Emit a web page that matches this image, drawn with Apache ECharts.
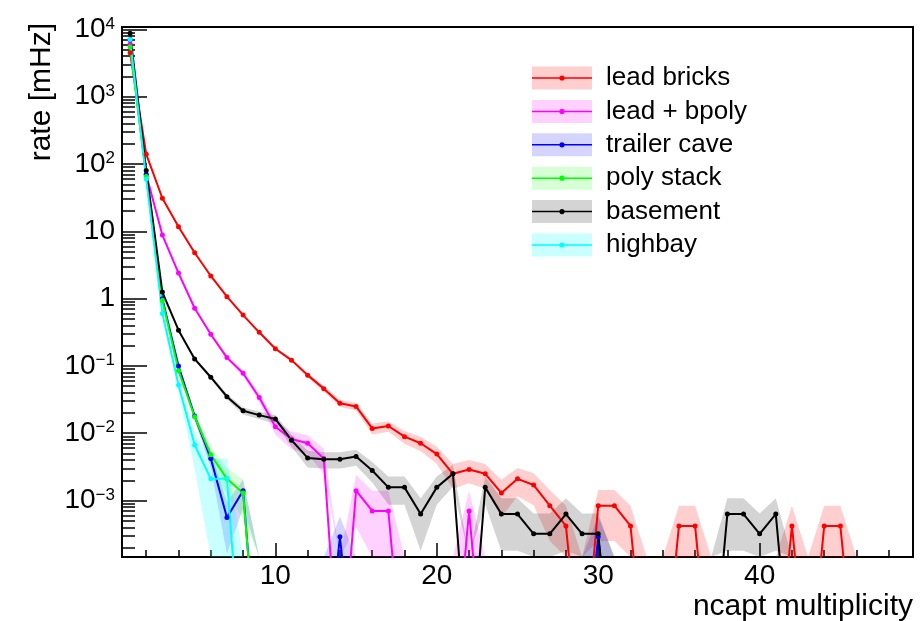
<!DOCTYPE html>
<html>
<head>
<meta charset="utf-8">
<script src="https://cdn.jsdelivr.net/npm/echarts@6/dist/echarts.min.js"></script>
<style>
html,body{margin:0;padding:0;background:#ffffff;}
#chart{width:923px;height:621px;}
</style>
</head>
<body>
<div id="chart"></div>
<script>
// ---------- data ----------
const xValues = [1,2,3,4,5,6,7,8,9,10,11,12,13,14,15,16,17,18,19,20,21,22,23,24,25,26,27,28,29,30,31,32,33,34,35,36,37,38,39,40,41,42,43,44,45,46,47,48,49];

const seriesNames = ['lead bricks', 'lead + bpoly', 'trailer cave', 'poly stack', 'basement', 'highbay'];

// lead bricks
const leadBricks = [4500, 140, 31, 11.7, 4.8, 2.17, 1.07, 0.57, 0.316, 0.18,
  0.122, 0.073, 0.046, 0.028, 0.025, 0.0118, 0.0128, 0.0089, 0.0071, 0.0049,
  0.0025, 0.0029, 0.0025, 0.0013, 0.0021, 0.0017, 0.00084, 0.00042, 0, 0.00084,
  0.00084, 0.00042, 0, 0, 0.00042, 0.00042, 0, 0, 0, 0,
  0, 0.00042, 0, 0.00042, 0.00042, 0, 0, 0, 0];
const leadBricksErr = [1.4, 0.24, 0.114, 0.07, 0.045, 0.030, 0.0212, 0.0155, 0.0115, 0.0087,
  0.0072, 0.0055, 0.0044, 0.0034, 0.0032, 0.0022, 0.0023, 0.0019, 0.0017, 0.0014,
  0.001, 0.0011, 0.001, 0.00074, 0.00094, 0.00085, 0.00059, 0.00042, 0, 0.00059,
  0.00059, 0.00042, 0, 0, 0.00042, 0.00042, 0, 0, 0, 0,
  0, 0.00042, 0, 0.00042, 0.00042, 0, 0, 0, 0];

// lead + bpoly
const leadBpoly = [6000, 70, 8.8, 2.4, 0.72, 0.295, 0.133, 0.078, 0.034, 0.0125,
  0.0082, 0.0071, 0.0042, 0, 0.0014, 0.0007, 0.0007, 0, 0, 0,
  0, 0.0007, 0, 0, 0, 0, 0, 0, 0, 0,
  0, 0, 0, 0, 0, 0, 0, 0, 0, 0,
  0, 0, 0, 0, 0, 0, 0, 0, 0];
const leadBpolyErr = [2.0, 0.22, 0.078, 0.041, 0.0224, 0.0144, 0.0096, 0.0074, 0.0049, 0.003,
  0.0024, 0.0022, 0.0017, 0, 0.001, 0.0007, 0.0007, 0, 0, 0,
  0, 0.0007, 0, 0, 0, 0, 0, 0, 0, 0,
  0, 0, 0, 0, 0, 0, 0, 0, 0, 0,
  0, 0, 0, 0, 0, 0, 0, 0, 0];

// trailer cave
const trailerCave = [7000, 70, 1.0, 0.1, 0.018, 0.0042, 0.00056, 0.0014, 0, 0,
  0, 0, 0, 0.00029, 0, 0, 0, 0, 0, 0,
  0, 0, 0, 0, 0, 0, 0, 0, 0, 0.00029,
  0, 0, 0, 0, 0, 0, 0, 0, 0, 0,
  0, 0, 0, 0, 0, 0, 0, 0, 0];
const trailerCaveErr = [1.4, 0.14, 0.017, 0.0053, 0.0023, 0.0011, 0.0004, 0.00063, 0, 0,
  0, 0, 0, 0.00029, 0, 0, 0, 0, 0, 0,
  0, 0, 0, 0, 0, 0, 0, 0, 0, 0.00029,
  0, 0, 0, 0, 0, 0, 0, 0, 0, 0,
  0, 0, 0, 0, 0, 0, 0, 0, 0];

// poly stack
const polyStack = [5500, 65, 0.95, 0.085, 0.0176, 0.0048, 0.0021, 0.0013, 0, 0,
  0, 0, 0, 0, 0, 0, 0, 0, 0, 0,
  0, 0, 0, 0, 0, 0, 0, 0, 0, 0,
  0, 0, 0, 0, 0, 0, 0, 0, 0, 0,
  0, 0, 0, 0, 0, 0, 0, 0, 0];
const polyStackErr = [1.5, 0.17, 0.02, 0.006, 0.0028, 0.0014, 0.00095, 0.00075, 0, 0,
  0, 0, 0, 0, 0, 0, 0, 0, 0, 0,
  0, 0, 0, 0, 0, 0, 0, 0, 0, 0,
  0, 0, 0, 0, 0, 0, 0, 0, 0, 0,
  0, 0, 0, 0, 0, 0, 0, 0, 0];

// basement
const basement = [8800, 80, 1.25, 0.34, 0.127, 0.068, 0.035, 0.0216, 0.0186, 0.0163,
  0.0079, 0.0043, 0.0041, 0.0041, 0.0045, 0.0028, 0.00157, 0.00157, 0.00063, 0.00157,
  0.0025, 0, 0.00157, 0.00063, 0.00063, 0.00032, 0.00032, 0.00063, 0.00032, 0.00032,
  0, 0, 0, 0, 0, 0, 0, 0.00063, 0.00063, 0.00032,
  0.00063, 0, 0, 0, 0, 0, 0, 0, 0];
const basementErr = [1.7, 0.16, 0.02, 0.0103, 0.0063, 0.0046, 0.0033, 0.0026, 0.0024, 0.0023,
  0.0016, 0.0012, 0.0011, 0.0011, 0.0012, 0.00094, 0.0007, 0.0007, 0.00045, 0.0007,
  0.00089, 0, 0.0007, 0.00045, 0.00045, 0.00032, 0.00032, 0.00045, 0.00032, 0.00032,
  0, 0, 0, 0, 0, 0, 0, 0.00045, 0.00045, 0.00032,
  0.00045, 0, 0, 0, 0, 0, 0, 0, 0];

// highbay
const highbay = [7100, 60, 0.6, 0.052, 0.0067, 0.0021, 0.0021, 0, 0, 0,
  0, 0, 0, 0, 0, 0, 0, 0, 0, 0,
  0, 0, 0, 0, 0, 0, 0, 0, 0, 0,
  0, 0, 0, 0, 0, 0, 0, 0, 0, 0,
  0, 0, 0, 0, 0, 0, 0, 0, 0];
const highbayErr = [3.9, 0.35, 0.035, 0.0104, 0.0038, 0.0021, 0.0021, 0, 0, 0,
  0, 0, 0, 0, 0, 0, 0, 0, 0, 0,
  0, 0, 0, 0, 0, 0, 0, 0, 0, 0,
  0, 0, 0, 0, 0, 0, 0, 0, 0, 0,
  0, 0, 0, 0, 0, 0, 0, 0, 0];

// tick labels
const xTickValues = [10, 20, 30, 40];
const xMinorTickValues = [2,4,6,8,12,14,16,18,22,24,26,28,32,34,36,38,42,44,46,48];
const yTickValues = [1e-3, 1e-2, 1e-1, 1, 10, 100, 1000, 10000];

// ---------- presentation ----------
const Y_MIN = 1.45e-4, Y_MAX = 1.086e4;
const X_MIN = 0.5, X_MAX = 49.5;
const ZERO_FLOOR = 1.5e-6; // log axis: zero entries drawn far below the frame (clipped)
const FONT = "'Liberation Sans', Arial, Helvetica, sans-serif";

const seriesValues = [leadBricks, leadBpoly, trailerCave, polyStack, basement, highbay];
const seriesErrors = [leadBricksErr, leadBpolyErr, trailerCaveErr, polyStackErr, basementErr, highbayErr];
const lineColors = ['#ff0000', '#ff00ff', '#0000ff', '#00ff00', '#000000', '#00ffff'];
const bandColors = ['rgba(255,0,0,0.19)', 'rgba(255,0,255,0.18)', 'rgba(0,0,255,0.17)',
                    'rgba(0,255,0,0.16)', 'rgba(0,0,0,0.17)', 'rgba(0,255,255,0.21)'];

const yMinorTickValues = [];
for (let e = -4; e <= 4; e++) {
  for (let m = 2; m <= 9; m++) {
    const v = m * Math.pow(10, e);
    if (v >= Y_MIN && v <= Y_MAX) yMinorTickValues.push(v);
  }
}

function yLabel(val) {
  const e = Math.round(Math.log10(val));
  if (e === 0) return '{b|1}';
  if (e === 1) return '{b|10}';
  return '{b|10}{s|' + (e < 0 ? '\u2212' + (-e) : String(e)) + '}';
}

function bandSeries(idx) {
  const vals = seriesValues[idx], errs = seriesErrors[idx];
  const data = xValues.map((x, i) => [x, Math.max(vals[i] - errs[i], Y_MIN), Math.max(vals[i] + errs[i], Y_MIN)]);
  const color = bandColors[idx];
  return {
    type: 'custom',
    name: seriesNames[idx],
    xAxisIndex: 0, yAxisIndex: 0,
    z: 1, silent: true,
    data: data,
    encode: { x: 0, y: [1, 2] },
    renderItem: function (params, api) {
      if (params.dataIndex !== 0) return null;
      const cs = params.coordSys;
      const top = data.map(d => api.coord([d[0], d[2]]));
      const bot = data.map(d => api.coord([d[0], d[1]])).reverse();
      return {
        type: 'polygon',
        shape: { points: top.concat(bot) },
        style: { fill: color, stroke: null, lineWidth: 0 },
        clipPath: { type: 'rect', shape: { x: cs.x, y: cs.y, width: cs.width, height: cs.height } }
      };
    }
  };
}

function lineSeries(idx) {
  const vals = seriesValues[idx];
  const color = lineColors[idx];
  return {
    type: 'line',
    name: seriesNames[idx],
    xAxisIndex: 0, yAxisIndex: 0,
    z: 3,
    data: xValues.map((x, i) => [x, vals[i] > 0 ? vals[i] : ZERO_FLOOR]),
    symbol: 'circle', symbolSize: 5, showAllSymbol: true,
    clip: true,
    lineStyle: { color: color, width: 2 },
    itemStyle: { color: color, borderWidth: 0 },
    emphasis: { disabled: true }
  };
}

const LINE_ICON = 'path://M0 0 M60 23 M0 10.75 L60 10.75 L60 12.25 L0 12.25 Z M27.4 11.5 A2.6 2.6 0 1 1 32.6 11.5 A2.6 2.6 0 1 1 27.4 11.5 Z';

const legendBase = {
  orient: 'vertical', left: 532, top: 65,
  itemWidth: 60, itemHeight: 23, itemGap: 7.4,
  selectedMode: false, padding: 0
};

const option = {
  animation: false,
  backgroundColor: '#ffffff',
  textStyle: { fontFamily: FONT, color: '#000' },
  grid: {
    left: 122, right: 10, top: 27, bottom: 64,
    show: true, borderColor: '#000', borderWidth: 2, backgroundColor: 'transparent',
    containLabel: false, outerBoundsMode: 'none'
  },
  legend: [
    Object.assign({}, legendBase, {
      data: seriesNames.map((n, i) => ({ name: n, icon: 'rect', itemStyle: { color: bandColors[i], borderWidth: 0 } })),
      textStyle: { fontSize: 26, fontFamily: FONT, color: 'rgba(0,0,0,0)', padding: [0, 0, 0, 9] }
    }),
    Object.assign({}, legendBase, {
      data: seriesNames.map((n, i) => ({ name: n, icon: LINE_ICON, itemStyle: { color: lineColors[i], borderWidth: 0 } })),
      textStyle: { fontSize: 26, color: '#000', fontFamily: FONT, padding: [0, 0, 0, 9] }
    })
  ],
  xAxis: [
    {
      type: 'value', min: X_MIN, max: X_MAX, position: 'bottom',
      axisLine: { show: true, onZero: false, lineStyle: { color: '#000', width: 2 } },
      axisTick: { show: true, inside: true, length: 14, customValues: xTickValues, lineStyle: { color: '#000', width: 1.5 } },
      axisLabel: { show: true, customValues: xTickValues, margin: 5, fontSize: 28, color: '#000', fontFamily: FONT },
      splitLine: { show: false },
      name: 'ncapt multiplicity', nameLocation: 'end', nameGap: 0, nameMoveOverlap: false,
      nameTextStyle: { fontSize: 30, color: '#000', fontFamily: FONT, align: 'right', verticalAlign: 'top', padding: [35, 0, 0, 0] }
    },
    {
      type: 'value', min: X_MIN, max: X_MAX, position: 'bottom', offset: 0,
      axisLine: { show: false, onZero: false },
      axisTick: { show: true, inside: true, length: 7, customValues: xMinorTickValues, lineStyle: { color: '#000', width: 1.5 } },
      axisLabel: { show: false },
      splitLine: { show: false }
    }
  ],
  yAxis: [
    {
      type: 'log', logBase: 10, min: Y_MIN, max: Y_MAX, position: 'left',
      axisLine: { show: true, onZero: false, lineStyle: { color: '#000', width: 2 } },
      axisTick: { show: true, inside: true, length: 25, customValues: yTickValues, lineStyle: { color: '#000', width: 1.5 } },
      axisLabel: {
        show: true, customValues: yTickValues, margin: 7, formatter: yLabel, color: '#000', fontSize: 28, fontFamily: FONT,
        rich: {
          b: { fontSize: 28, color: '#000', fontFamily: FONT },
          s: { fontSize: 17, color: '#000', fontFamily: FONT, verticalAlign: 'top', lineHeight: 17 }
        }
      },
      splitLine: { show: false },
      minorTick: { show: false },
      name: 'rate [mHz]', nameLocation: 'end', nameRotate: 90, nameGap: 4, nameMoveOverlap: false,
      nameTextStyle: { fontSize: 30, color: '#000', fontFamily: FONT, align: 'right', verticalAlign: 'bottom', padding: [0, 0, 65, 0] }
    },
    {
      type: 'log', logBase: 10, min: Y_MIN, max: Y_MAX, position: 'left', offset: 0,
      axisLine: { show: false, onZero: false },
      axisTick: { show: true, inside: true, length: 13, customValues: yMinorTickValues, lineStyle: { color: '#000', width: 1.5 } },
      axisLabel: { show: false },
      splitLine: { show: false },
      minorTick: { show: false }
    }
  ],
  series: [0, 1, 2, 3, 4, 5].map(bandSeries).concat([0, 1, 2, 3, 4, 5].map(lineSeries))
};

const chart = echarts.init(document.getElementById('chart'), null, { renderer: 'canvas' });
chart.setOption(option);
</script>
</body>
</html>
